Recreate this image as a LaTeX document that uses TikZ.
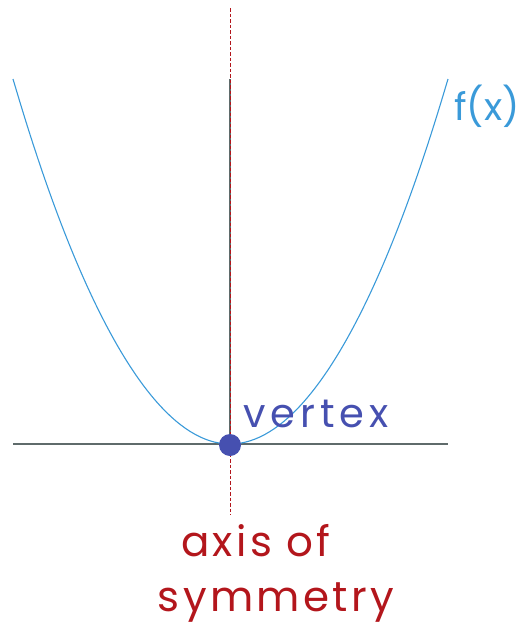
\documentclass[tikz,border=0pt]{standalone}
\usepackage{fontspec}
\setmainfont{Poppins}
\definecolor{parab}{HTML}{3A9AD9}
\definecolor{axgrey}{HTML}{5F6B6B}
\definecolor{symred}{HTML}{B3161C}
\definecolor{dotc}{HTML}{4650B0}
\begin{document}
\begin{tikzpicture}[x=1pt,y=-1pt,
  lbl/.style={inner sep=0pt, align=center}]
\useasboundingbox (0,0) rectangle (520,643);
\coordinate (symtop) at (230,8);
\coordinate (symmid) at (230,79);
\coordinate (symbot) at (230,515);
\coordinate (vtx) at (230,444);
\coordinate (hl) at (13,444);
\coordinate (hr) at (448,444);
\coordinate (pl) at (13,79);
\coordinate (pr) at (448,79);
\draw[axgrey, line width=1.3] (hl) -- (hr);
\draw[parab, line width=1.1] (pl) parabola bend (vtx) (pr);
\draw[axgrey, line width=1.2] (symmid) -- (vtx);
\draw[symred, line width=0.9, dash pattern=on 3.5pt off 2pt] (symtop) -- (symbot);
\node[circle, fill=dotc, minimum size=22pt, inner sep=0pt] (v) at (230,445) {};
\node[lbl, text=dotc, font=\fontsize{40}{44}\selectfont\addfontfeature{LetterSpace=12}] (vl) at (316,414) {vertex};
\node[lbl, text=parab, font=\fontsize{38}{42}\selectfont] (fx) at (487,106) {f(x)};
\node[lbl, text=symred, font=\fontsize{42}{46}\selectfont\addfontfeature{LetterSpace=8}] (ax1) at (256,541) {axis of};
\node[lbl, text=symred, font=\fontsize{42}{46}\selectfont\addfontfeature{LetterSpace=8}] (ax2) at (276,603) {symmetry};
\end{tikzpicture}
\end{document}
